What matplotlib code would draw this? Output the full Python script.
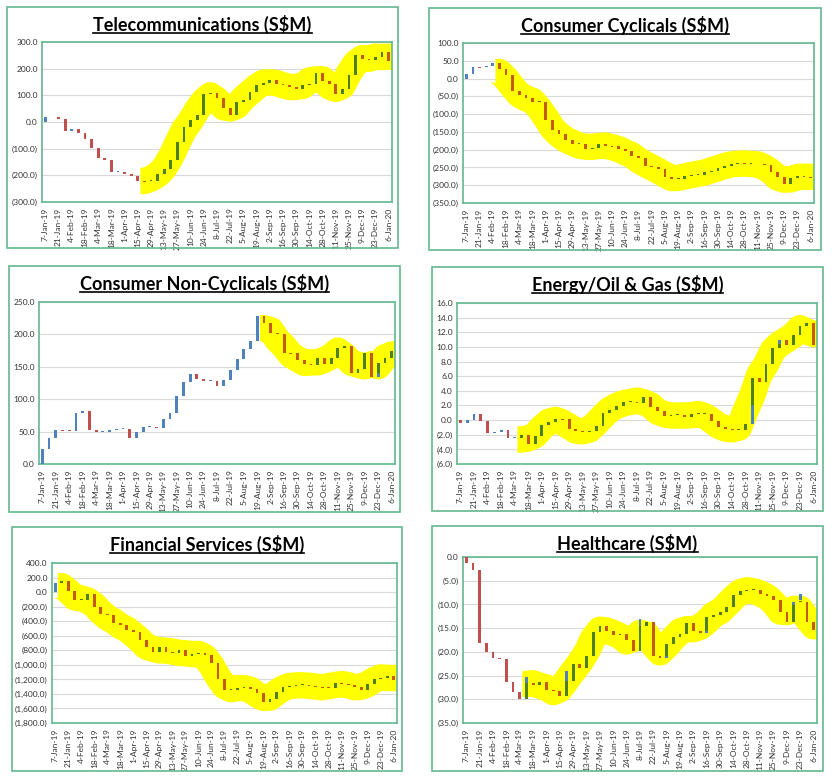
import numpy as np
import pandas as pd
import matplotlib
matplotlib.use("Agg")
import matplotlib.pyplot as plt
from matplotlib.lines import Line2D
from matplotlib.patches import Rectangle

plt.rcParams['font.family'] = ['Lato', 'DejaVu Sans']

# ============================
# Datos (valor acumulado semanal, S$M)
# ============================
weeks = pd.date_range("2019-01-07", "2020-01-06", freq="7D")
week_labels = [f"{d.day}-{d.strftime('%b')}-{d.strftime('%y')}" for d in weeks]

telecom = [17, 19, 12, -32, -27, -40, -62, -96, -134, -141, -189, -187, -196, -203,
           -220, -222, -221, -195, -178, -144, -74, -20, 6, 28, 104, 107, 89, 52, 25,
           75, 81, 111, 139, 146, 157, 143, 138, 132, 124, 139, 143, 185, 152, 143,
           105, 124, 177, 251, 236, 232, 242, 261, 228]

cyclicals = [13, 33, 32, 35, 44, 27, 10, -36, -46, -54, -67, -67, -117, -145, -156,
             -173, -185, -183, -197, -195, -184, -190, -191, -199, -205, -218, -224,
             -247, -250, -253, -276, -282, -282, -274, -270, -270, -263, -260, -251,
             -246, -241, -237, -241, -239, -241, -244, -263, -277, -296, -280, -275,
             -276, -277]

non_cyclicals = [23, 40, 53, 52, 51, 79, 82, 52, 49, 50, 52, 54, 54, 40, 50, 57, 57,
                 55, 70, 78, 105, 126, 139, 131, 128, 128, 121, 130, 145, 162, 178,
                 190, 229, 217, 202, 201, 172, 171, 161, 154, 153, 163, 155, 164, 179,
                 182, 141, 146, 172, 134, 156, 163, 175]

energy = [-0.4, 0.0, 0.8, -0.1, -1.8, -1.6, -1.3, -2.5, -2.5, -2.0, -3.3, -2.2, -0.7,
          -0.2, 0.2, 0.1, -1.2, -1.5, -1.6, -1.5, -0.8, 1.0, 1.4, 1.9, 2.5, 2.5, 2.4,
          3.1, 1.8, 1.2, 0.5, 0.7, 0.7, 0.4, 0.8, 0.8, 0.9, -0.1, -1.0, -1.2, -1.3,
          -1.3, -0.5, 5.7, 5.2, 7.7, 9.9, 11.0, 10.3, 11.6, 12.8, 13.3, 10.2]

financial = [130, 150, 10, -115, -115, -30, -200, -305, -320, -425, -455, -525, -555,
             -665, -760, -825, -755, -825, -835, -795, -880, -845, -835, -870, -970,
             -1190, -1345, -1340, -1320, -1305, -1335, -1390, -1510, -1465, -1375,
             -1305, -1290, -1280, -1280, -1285, -1300, -1310, -1315, -1255, -1260,
             -1280, -1300, -1345, -1260, -1190, -1175, -1155, -1210]

healthcare = [-1.2, -2.8, -18.2, -20.1, -21.3, -21.6, -26.4, -28.5, -30.0, -26.5, -27.0,
              -26.4, -28.0, -28.2, -29.3, -26.2, -22.6, -23.4, -20.8, -15.9, -14.6,
              -15.5, -16.4, -16.2, -17.4, -19.8, -14.6, -13.6, -20.8, -21.2, -18.4,
              -16.8, -16.2, -14.0, -15.5, -16.1, -12.7, -12.2, -11.6, -10.6, -8.1,
              -7.2, -6.9, -6.9, -7.9, -8.2, -9.1, -11.6, -13.8, -9.5, -9.5, -13.8, -15.4]

# semanas donde empieza el resaltado amarillo
hl_telecom, hl_cyc, hl_noncyc, hl_energy, hl_fin, hl_health = 15, 5, 33, 9, 1, 9

# tramos azules extra (semana, desde, hasta)
blue_noncyc = [(50, 134, 140)]
blue_energy = [(43, -0.5, 2.0), (47, 10.4, 11.0)]
blue_health = [(9, -26.5, -25.4), (15, -26.2, -24.0), (26, -14.6, -13.0),
               (30, -21.2, -20.8), (36, -16.1, -15.7), (49, -9.5, -10.2), (50, -7.9, -9.1)]

BLUE, RED, GREEN, ORANGE = "#4F81BD", "#C0504D", "#4F7F1F", "#C55A11"
BORDER = "#62B98F"
W, H = 832, 779


def fmt_num(v):
    s = f"{abs(v):,.1f}"
    return f"({s})" if v < 0 else s


def draw_panel(box, axbox, title, closes, hl, ylim, ystep, blues=()):
    # marco del panel
    bx0, by0, bx1, by1 = box
    fig.add_artist(Rectangle((bx0 / W, 1 - by1 / H), (bx1 - bx0) / W, (by1 - by0) / H,
                             transform=fig.transFigure, fill=False,
                             edgecolor=BORDER, linewidth=1.2))
    t = fig.text((bx0 + bx1) / 2 / W, 1 - (by0 + 17) / H, title,
                 ha="center", va="center", fontsize=13, fontweight="bold")
    titles.append(t)

    ax0, ay0, ax1, ay1 = axbox
    ax = fig.add_axes([ax0 / W, 1 - ay1 / H, (ax1 - ax0) / W, (ay1 - ay0) / H])
    closes = np.array(closes, dtype=float)
    opens = np.concatenate([[0.0], closes[:-1]])
    x = np.arange(len(closes))
    yr = ylim[1] - ylim[0]

    # banda amarilla
    sm = pd.Series(closes[hl:]).rolling(3, center=True, min_periods=1).mean().values
    bx = np.concatenate([[hl - 0.6], x[hl:], [len(closes) - 0.4]])
    by = np.concatenate([[sm[0]], sm, [sm[-1]]])
    ax.plot(bx, by, color="#FFFF00", linewidth=19, solid_capstyle="butt",
            solid_joinstyle="round", zorder=1)

    diff = closes - opens
    cols = []
    for i, d in enumerate(diff):
        if i < hl:
            cols.append(BLUE if d >= 0 else RED)
        else:
            cols.append(GREEN if d >= 0 else ORANGE)
    hgt = np.where(np.abs(diff) < yr * 0.006, np.sign(diff + 1e-9) * yr * 0.006, diff)
    ax.bar(x, hgt, bottom=opens, width=0.42, color=cols, zorder=3)
    for (i, lo, hi) in blues:
        ax.bar(i, hi - lo, bottom=lo, width=0.42, color=BLUE, zorder=4)

    ax.set_xlim(-0.5, len(closes) - 0.5)
    ax.set_ylim(*ylim)
    yt = np.arange(ylim[0], ylim[1] + ystep / 2, ystep)
    ax.set_yticks(yt)
    ax.set_yticklabels([fmt_num(v) for v in yt], fontsize=6, color="#333333")
    ax.set_xticks(x[::2])
    ax.set_xticklabels(week_labels[::2], rotation=90, fontsize=6, color="#333333")
    ax.tick_params(axis="y", length=0, pad=3)
    ax.tick_params(axis="x", length=0, pad=4)
    ax.grid(axis="y", color="#D9D9D9", linewidth=0.8, zorder=0)
    ax.set_axisbelow(True)
    for s in ax.spines.values():
        s.set_color(BORDER)
        s.set_linewidth(1.2)
    return ax


fig = plt.figure(figsize=(W / 100, H / 100), dpi=100)
titles = []

draw_panel((7, 7, 398, 248), (42, 42, 392, 202), "Telecommunications (S$M)",
           telecom, hl_telecom, (-300, 300), 100)
draw_panel((429, 8, 821, 250), (463, 43, 814, 203), "Consumer Cyclicals (S$M)",
           cyclicals, hl_cyc, (-350, 100), 50)
draw_panel((9, 266, 400, 512), (39, 302, 395, 464), "Consumer Non-Cyclicals (S$M)",
           non_cyclicals, hl_noncyc, (0, 250), 50, blue_noncyc)
draw_panel((432, 267, 823, 511), (457, 303, 817, 464), "Energy/Oil & Gas (S$M)",
           energy, hl_energy, (-6, 16), 2, blue_energy)
draw_panel((12, 527, 402, 771), (52, 563, 397, 723), "Financial Services (S$M)",
           financial, hl_fin, (-1800, 400), 200)
draw_panel((432, 526, 823, 771), (463, 557, 817, 723), "Healthcare (S$M)",
           healthcare, hl_health, (-35, 0), 5, blue_health)

# subrayado de los títulos
fig.canvas.draw()
r = fig.canvas.get_renderer()
for t in titles:
    bb = t.get_window_extent(r)
    yline = (bb.y0 + 1) / H
    fig.add_artist(Line2D([bb.x0 / W, bb.x1 / W], [yline, yline],
                          transform=fig.transFigure, color="black", linewidth=1.2))

fig.savefig("out.png", dpi=100)
